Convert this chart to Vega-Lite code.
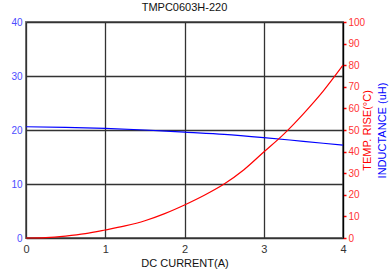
{
  "$schema": "https://vega.github.io/schema/vega-lite/v6.json",
  "width": 317,
  "height": 216,
  "autosize": "none",
  "padding": {"left": 26, "top": 22, "right": 47, "bottom": 40},
  "background": "white",
  "title": {"text": "TMPC0603H-220", "fontSize": 11, "font": "Liberation Sans", "fontWeight": "normal", "offset": 4, "color": "#111"},
  "config": {"view": {"stroke": "#777", "strokeWidth": 2}, "font": "Liberation Sans"},
  "datasets": {
    "ind": [
      {"I": 0, "L": 20.6}, {"I": 0.5, "L": 20.5}, {"I": 1, "L": 20.3}, {"I": 1.5, "L": 20.0},
      {"I": 2, "L": 19.6}, {"I": 2.5, "L": 19.2}, {"I": 3, "L": 18.6}, {"I": 3.5, "L": 17.9}, {"I": 4, "L": 17.2}
    ],
    "temp": [
      {"I": 0, "T": 0}, {"I": 0.25, "T": 0.2}, {"I": 0.5, "T": 0.9}, {"I": 0.75, "T": 2.0},
      {"I": 1, "T": 3.7}, {"I": 1.25, "T": 5.6}, {"I": 1.5, "T": 8.0}, {"I": 1.75, "T": 11.3},
      {"I": 2, "T": 15.3}, {"I": 2.25, "T": 19.8}, {"I": 2.5, "T": 25.0}, {"I": 2.75, "T": 31.6},
      {"I": 3, "T": 39.8}, {"I": 3.25, "T": 48.0}, {"I": 3.5, "T": 57.5}, {"I": 3.75, "T": 68.0}, {"I": 4, "T": 80.0}
    ]
  },
  "layer": [
    {
      "data": {"name": "ind"},
      "mark": {"type": "line", "color": "#0000ff", "strokeWidth": 1.2, "interpolate": "monotone"},
      "encoding": {
        "x": {
          "field": "I", "type": "quantitative",
          "scale": {"domain": [0, 4], "nice": false},
          "axis": {
            "values": [0, 1, 2, 3, 4], "format": "d", "title": "DC CURRENT(A)", "titleFontSize": 11, "titleFontWeight": "normal",
            "titleColor": "#111", "titlePadding": 3, "labelFontSize": 11, "labelColor": "#333", "labelPadding": 5,
            "labelFlush": false, "ticks": false, "domain": false, "grid": true, "gridColor": "#333", "gridWidth": 1.3
          }
        },
        "y": {
          "field": "L", "type": "quantitative",
          "scale": {"domain": [0, 40], "nice": false},
          "axis": {
            "values": [0, 10, 20, 30, 40], "ticks": false, "domain": false, "grid": true, "gridColor": "#333", "gridWidth": 1.3,
            "labelColor": "#4d4dff", "labelFontSize": 10, "labelPadding": 4,
            "title": "INDUCTANCE (uH)", "titleColor": "#0000ff", "titleFontSize": 11, "titleFontWeight": "normal",
            "titleX": 356, "titleY": 108, "titleAngle": 270, "titleAlign": "center", "titleBaseline": "middle"
          }
        }
      }
    },
    {
      "data": {"name": "temp"},
      "mark": {"type": "line", "color": "#ff0000", "strokeWidth": 1.2, "interpolate": "monotone"},
      "encoding": {
        "x": {"field": "I", "type": "quantitative", "scale": {"domain": [0, 4], "nice": false}},
        "y": {
          "field": "T", "type": "quantitative",
          "scale": {"domain": [0, 100], "nice": false},
          "axis": {
            "orient": "right", "values": [0, 10, 20, 30, 40, 50, 60, 70, 80, 90, 100], "grid": false,
            "domain": true, "domainColor": "#000", "domainWidth": 1.2,
            "ticks": true, "tickColor": "#ff0000", "tickSize": 3, "tickWidth": 1.5,
            "labelColor": "#ff3333", "labelFontSize": 10, "labelPadding": 2,
            "title": "TEMP. RISE(°C)", "titleColor": "#ff0000", "titleFontSize": 11, "titleFontWeight": "normal",
            "titleX": 24, "titleY": 108, "titleAngle": 270, "titleAlign": "center", "titleBaseline": "middle"
          }
        }
      }
    }
  ],
  "resolve": {"scale": {"y": "independent"}}
}
